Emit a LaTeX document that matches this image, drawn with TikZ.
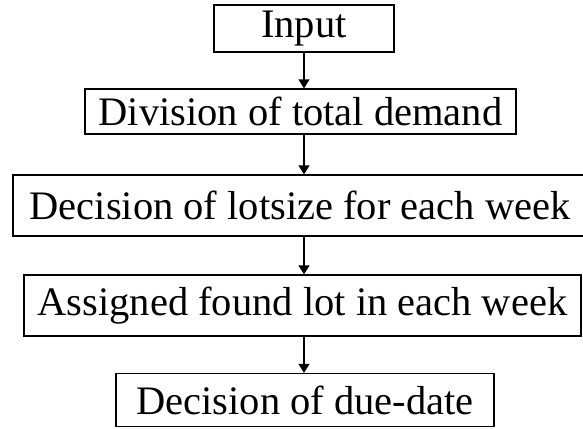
\documentclass[tikz,border=0pt]{standalone}
\usepackage{fontspec}
\setmainfont{Liberation Serif}
\usetikzlibrary{arrows.meta}
\tikzset{
  procbox/.style={draw, line width=1.3pt, inner sep=0pt, font=\fontsize{40.5}{42}\selectfont},
  flowarrow/.style={line width=1.4pt, -{Triangle[length=9pt,width=11pt]}}
}
\begin{document}
\begin{tikzpicture}[x=1pt,y=-1pt]
			\useasboundingbox (0,0) rectangle (583,428);
			\node[procbox, minimum width=180, minimum height=47] (input) at (304,28.5) {Input};
			\node[procbox, minimum width=431, minimum height=45] (division) at (300.5,111.5) {Division of total demand};
			\node[procbox, minimum width=574, minimum height=61] (lotsize) at (300,205.5) {Decision of lotsize for each week};
			\node[procbox, minimum width=557, minimum height=61] (assign) at (302.5,305.5) {Assigned found lot in each week};
			\node[procbox, minimum width=378, minimum height=53] (duedate) at (305,400) {Decision of due-date};
			\draw[flowarrow] (input.south) -- (input.south |- division.north);
			\draw[flowarrow] (input.south |- division.south) -- (input.south |- lotsize.north);
			\draw[flowarrow] (input.south |- lotsize.south) -- (input.south |- assign.north);
			\draw[flowarrow] (input.south |- assign.south) -- (input.south |- duedate.north);
		\end{tikzpicture}
\end{document}
